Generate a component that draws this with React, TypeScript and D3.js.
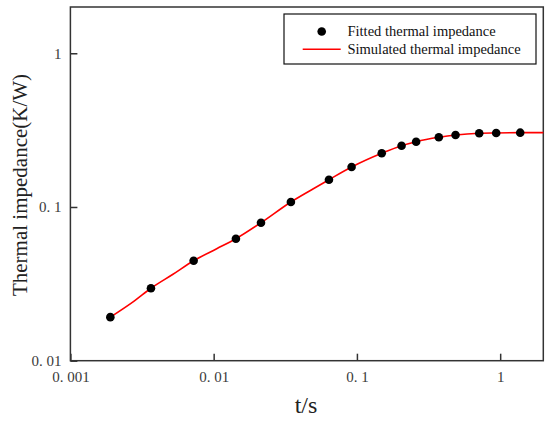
import { useEffect, useRef } from "react";
import * as d3 from "d3";

// Fitted thermal impedance (black dots)
const fitTime = [0.0019, 0.00365, 0.00725, 0.0143, 0.0214, 0.0346, 0.0638, 0.0918, 0.149, 0.205, 0.259, 0.373, 0.488, 0.714, 0.938, 1.38];
const fitZth = [0.0192, 0.0296, 0.0447, 0.0622, 0.079, 0.1078, 0.1505, 0.182, 0.2236, 0.2505, 0.266, 0.284, 0.294, 0.3017, 0.3031, 0.3044];

// Simulated thermal impedance (red curve)
const simTime = [0.0019, 0.0028, 0.00365, 0.0052, 0.00725, 0.0105, 0.0143, 0.0214, 0.0346, 0.05, 0.0638, 0.0918, 0.149, 0.205, 0.259, 0.373, 0.488, 0.714, 0.938, 1.38, 2.0];
const simZth = [0.0192, 0.0245, 0.0296, 0.0365, 0.0447, 0.0535, 0.0622, 0.079, 0.1078, 0.132, 0.1505, 0.182, 0.2236, 0.2505, 0.266, 0.284, 0.294, 0.3017, 0.3031, 0.3044, 0.3048];

const xTicks = [0.001, 0.01, 0.1, 1];
const xTickLabels = ["0. 001", "0. 01", "0. 1", "1"];
const yTicks = [0.01, 0.1, 1];
const yTickLabels = ["0. 01", "0. 1", "1"];

const legendLabels = ["Fitted thermal impedance", "Simulated thermal impedance"];

const W = 550;
const H = 421;

const App = () => {
    const svgRef = useRef<SVGSVGElement>(null);

    useEffect(() => {
        if (!svgRef.current) return;
        const svg = d3.select(svgRef.current);
        svg.selectAll("*").remove();

        const left = 70.4, right = 543.3, top = 7, bottom = 360.7;
        const axisColor = "#333";
        const serif = "'Liberation Serif', 'Times New Roman', serif";

        const x = d3.scaleLog().domain([0.001, 2]).range([left, right]);
        const y = d3.scaleLog().domain([0.01, 2]).range([bottom, top]);

        svg.append("rect").attr("width", W).attr("height", H).attr("fill", "#fff");

        // X axis (ticks pointing inward)
        const gx = svg.append("g")
            .attr("transform", `translate(0,${bottom})`)
            .call(
                d3.axisBottom(x)
                    .tickValues(xTicks)
                    .tickSizeInner(-7)
                    .tickSizeOuter(0)
                    .tickPadding(11)
                    .tickFormat((_, i) => xTickLabels[i]) as any
            );
        gx.select(".domain").remove();
        gx.attr("font-family", null);
        gx.selectAll(".tick line").attr("stroke", axisColor).attr("stroke-width", 1.5);
        gx.selectAll(".tick text")
            .attr("fill", "#3a3a3a")
            .style("font-family", serif)
            .style("font-size", "15px");

        // Y axis
        const gy = svg.append("g")
            .attr("transform", `translate(${left},0)`)
            .call(
                d3.axisLeft(y)
                    .tickValues(yTicks)
                    .tickSizeInner(-7)
                    .tickSizeOuter(0)
                    .tickPadding(9)
                    .tickFormat((_, i) => yTickLabels[i]) as any
            );
        gy.select(".domain").remove();
        gy.attr("font-family", null);
        gy.selectAll(".tick line").attr("stroke", axisColor).attr("stroke-width", 1.5);
        gy.selectAll(".tick text")
            .attr("fill", "#3a3a3a")
            .style("font-family", serif)
            .style("font-size", "15px");

        // Frame
        svg.append("rect")
            .attr("x", left)
            .attr("y", top)
            .attr("width", right - left)
            .attr("height", bottom - top)
            .attr("fill", "none")
            .attr("stroke", axisColor)
            .attr("stroke-width", 1.5);

        // Simulated curve
        const line = d3.line<number>()
            .x((d) => x(d))
            .y((_, i) => y(simZth[i]))
            .curve(d3.curveMonotoneX);
        svg.append("path")
            .datum(simTime)
            .attr("d", line)
            .attr("fill", "none")
            .attr("stroke", "#f00")
            .attr("stroke-width", 1.6);

        // Fitted points
        svg.selectAll(".pt")
            .data(fitTime)
            .enter()
            .append("circle")
            .attr("class", "pt")
            .attr("cx", (d) => x(d))
            .attr("cy", (_, i) => y(fitZth[i]))
            .attr("r", 4.3)
            .attr("fill", "#000");

        // Legend
        const lg = svg.append("g");
        lg.append("rect")
            .attr("x", 284)
            .attr("y", 14)
            .attr("width", 252)
            .attr("height", 50)
            .attr("fill", "#fff")
            .attr("stroke", "#111")
            .attr("stroke-width", 1.2);
        lg.append("circle").attr("cx", 321.7).attr("cy", 31.5).attr("r", 4.3).attr("fill", "#000");
        lg.append("line")
            .attr("x1", 302.7).attr("x2", 340.7)
            .attr("y1", 49.3).attr("y2", 49.3)
            .attr("stroke", "#f00").attr("stroke-width", 1.6);
        legendLabels.forEach((t, i) => {
            lg.append("text")
                .attr("x", 347.5)
                .attr("y", 36 + i * 17.5)
                .attr("font-family", serif)
                .attr("font-size", 14.5)
                .attr("fill", "#111")
                .text(t);
        });

        // Axis titles
        svg.append("text")
            .attr("x", 306)
            .attr("y", 413)
            .attr("text-anchor", "middle")
            .attr("font-family", serif)
            .attr("font-size", 24)
            .attr("fill", "#222")
            .text("t/s");

        svg.append("text")
            .attr("transform", `translate(27,185) rotate(-90)`)
            .attr("text-anchor", "middle")
            .attr("font-family", serif)
            .attr("font-size", 21)
            .attr("fill", "#222")
            .text("Thermal impedance(K/W)");
    }, []);

    return (
        <svg
            ref={svgRef}
            width={W}
            height={H}
            style={{ position: "fixed", left: 0, top: 0, display: "block" }}
        />
    );
};

export default App;
